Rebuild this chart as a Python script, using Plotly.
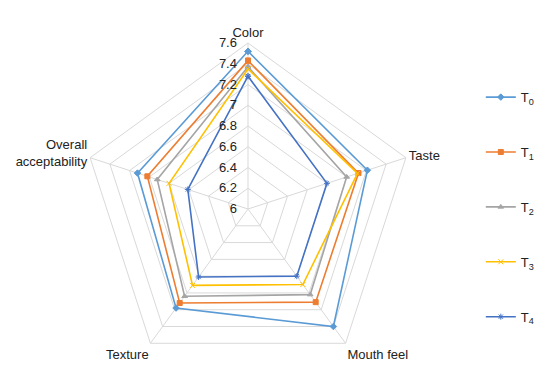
import plotly.graph_objects as go

categories = ["Color", "Taste", "Mouth feel", "Texture", "Overall<br>acceptability"]
series_names = ["T<sub>0</sub>", "T<sub>1</sub>", "T<sub>2</sub>", "T<sub>3</sub>", "T<sub>4</sub>"]
T0 = [7.52, 7.21, 7.40, 7.18, 7.12]
T1 = [7.43, 7.12, 7.11, 7.12, 7.02]
T2 = [7.37, 7.00, 7.02, 7.04, 6.92]
T3 = [7.35, 7.11, 6.90, 6.91, 6.80]
T4 = [7.28, 6.80, 6.80, 6.81, 6.61]
radial_ticks = [6, 6.2, 6.4, 6.6, 6.8, 7, 7.2, 7.4, 7.6]

series = [T0, T1, T2, T3, T4]
colors = ["#5B9BD5", "#ED7D31", "#A5A5A5", "#FFC000", "#4472C4"]
symbols = ["diamond", "square", "triangle-up", "x-thin-open", "asterisk-open"]

fig = go.Figure()
for name, vals, col, sym in zip(series_names, series, colors, symbols):
    fig.add_trace(go.Scatterpolar(
        r=vals + vals[:1],
        theta=categories + categories[:1],
        mode="lines+markers",
        name=name,
        legendgroup=name,
        line=dict(color=col, width=1.6),
        marker=dict(symbol=sym, size=5, color=col, line=dict(color=col, width=1)),
    ))

W, H = 553, 367
cx, R = 240, 166
fig.update_layout(
    width=W, height=H,
    margin=dict(l=0, r=0, t=0, b=0),
    paper_bgcolor="white",
    font=dict(family="Liberation Sans, Arial, sans-serif", size=13, color="#222222"),
    polar=dict(
        domain=dict(x=[(cx - R) / W, (cx + R) / W], y=[0, 2 * R / H]),
        bgcolor="white",
        gridshape="linear",
        radialaxis=dict(
            range=[6, 7.6], tickvals=radial_ticks, angle=90, side="counterclockwise",
            tickangle=90,
            showline=False, ticks="outside", ticklen=6, tickcolor="rgba(0,0,0,0)",
            gridcolor="#D9D9D9", gridwidth=1,
            tickfont=dict(size=13, color="#222222"),
        ),
        angularaxis=dict(
            direction="clockwise", rotation=90, showline=True, linecolor="#D9D9D9",
            gridcolor="#D9D9D9", ticks="", tickfont=dict(size=13, color="#222222"),
        ),
    ),
    legend=dict(
        x=0.855, y=0.798, xanchor="left", yanchor="top",
        tracegroupgap=35, font=dict(size=13, color="#222222"),
        bgcolor="rgba(0,0,0,0)",
    ),
)

fig.write_html("out.html")
